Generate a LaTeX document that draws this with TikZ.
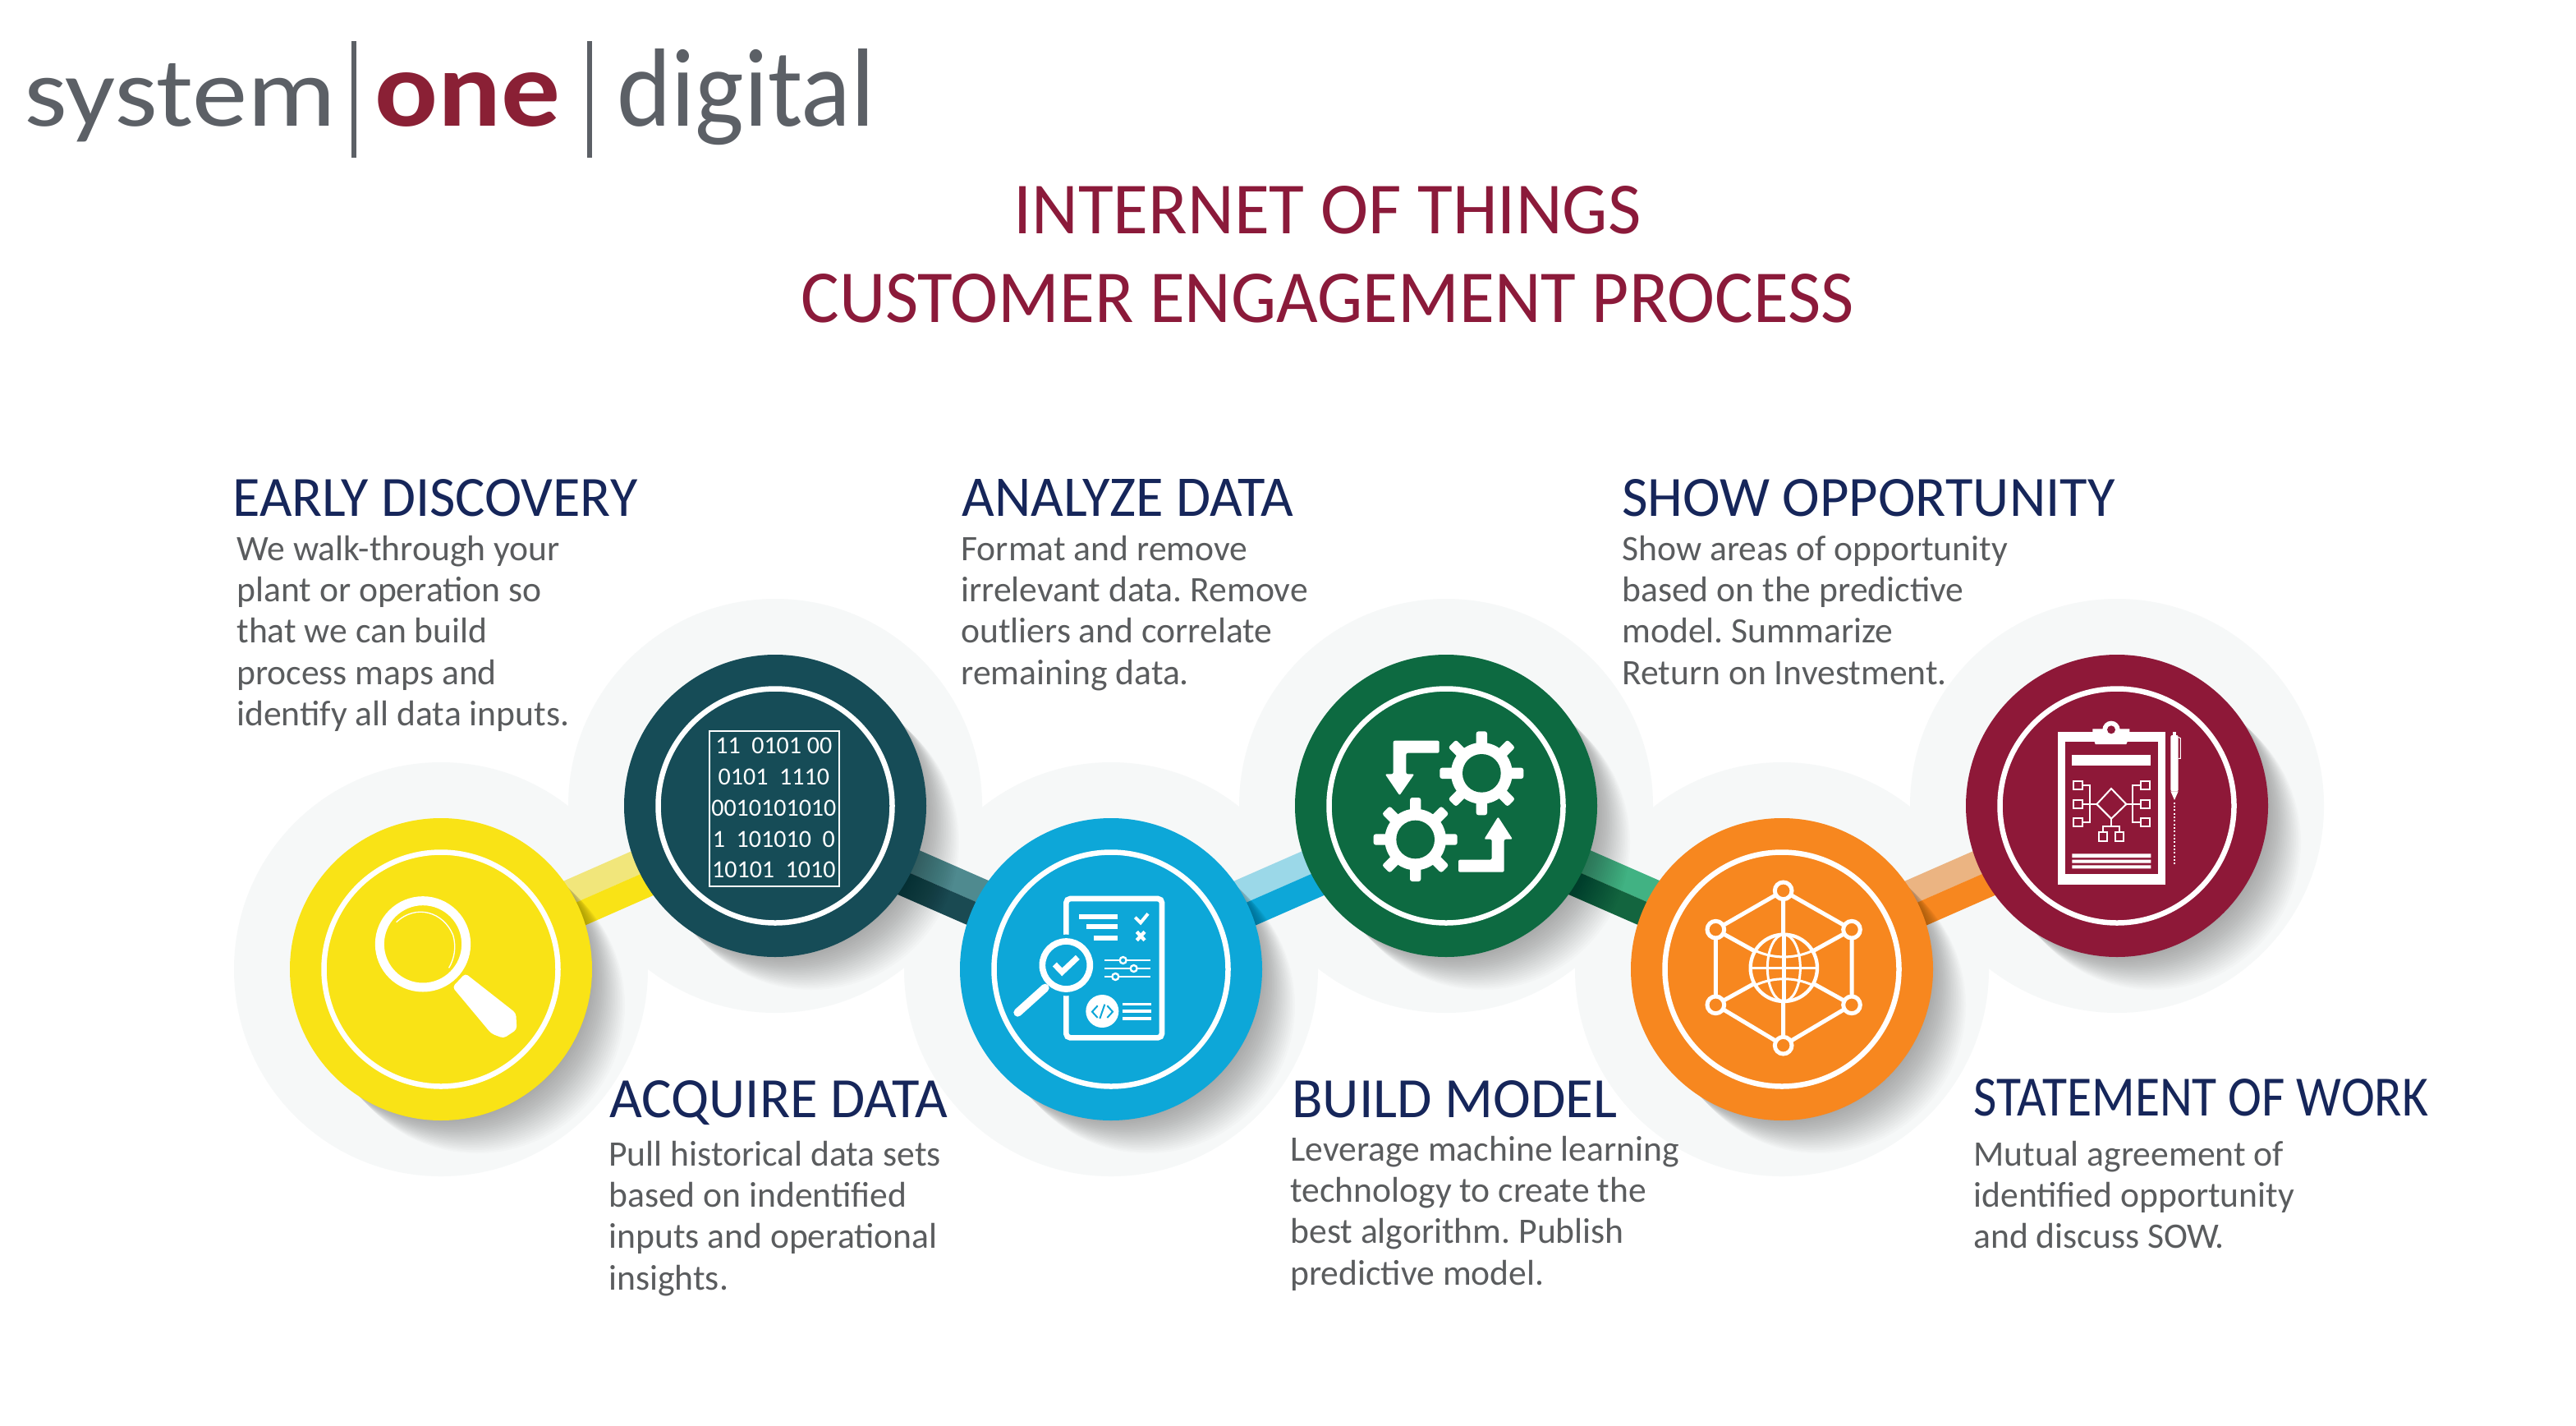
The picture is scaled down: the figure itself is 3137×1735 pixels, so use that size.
\documentclass[tikz,border=0pt]{standalone}
\usepackage{fontspec}
\usepackage{graphicx}
\setmainfont{Carlito}
\usetikzlibrary{calc}
\definecolor{cyel}{HTML}{F9E316}\definecolor{cyelL}{HTML}{F1E67B}
\definecolor{cteal}{HTML}{164C57}\definecolor{ctealL}{HTML}{4F8A8F}\definecolor{ctealD}{HTML}{1A4A52}
\definecolor{cblue}{HTML}{0DA7D8}\definecolor{cblueL}{HTML}{9BD8E8}
\definecolor{cgrn}{HTML}{0D6A41}\definecolor{cgrnL}{HTML}{41B283}\definecolor{cgrnD}{HTML}{13653F}
\definecolor{corg}{HTML}{F7871F}\definecolor{corgL}{HTML}{EBB482}
\definecolor{cmar}{HTML}{8E1838}
\definecolor{chalo}{HTML}{F6F8F8}
\definecolor{ctitle}{HTML}{8B1A3A}\definecolor{chead}{HTML}{16265A}\definecolor{cbody}{HTML}{5A5C5E}
\definecolor{clogo}{HTML}{5C6066}\definecolor{clogoR}{HTML}{8A2035}
\pgfdeclarelayer{halolayer}\pgfdeclarelayer{bandlayer}
\pgfsetlayers{halolayer,bandlayer,main}
\def\zp{0.16667pt}
\tikzset{
  halo/.style={circle,minimum size=252pt,inner sep=0pt,fill=chalo},
  stage/.style={circle,minimum size=184pt,inner sep=0pt,fill=#1},
  ring/.style={white,line width=3.25pt},
  band/.style={line width=15pt,draw=#1},
  headtxt/.style={anchor=base west,inner sep=0pt,text=chead,font=\fontsize{34pt}{34pt}\selectfont},
  titletxt/.style={anchor=base west,inner sep=0pt,text=ctitle,font=\fontsize{44pt}{44pt}\selectfont},
  bodytxt/.style={anchor=base west,inner sep=0pt,text=cbody,font=\fontsize{21.8pt}{25.2pt}\selectfont\frenchspacing},
  logotxt/.style={anchor=base west,inner sep=0pt,font=\fontsize{66pt}{66pt}\selectfont},
  bits/.style={anchor=base,inner sep=0pt,text=white,font=\fontsize{15pt}{15pt}\selectfont},
  wl/.style={draw=white,line width=#1*\zp},
}
\newcommand\castshadow[1]{\foreach \i in {1,...,22}{\fill[black,opacity=.017] ([shift={(\i*2,\i*2)}]#1) circle (180);}}
\newcommand\riseband[4]{%
  \draw[band=#3] ([shift={(-6,-22.7)}]#1.center) -- ([shift={(-6,-2.7)}]#2.center);
  \draw[band=#4] ([shift={(6,4.7)}]#1.center) -- ([shift={(6,24.7)}]#2.center);}
\newcommand\fallband[4]{%
  \draw[band=#3] ([shift={(6,-3.7)}]#1.center) -- ([shift={(6,-23.7)}]#2.center);
  \draw[band=#4] ([shift={(-6,23.7)}]#1.center) -- ([shift={(-6,3.7)}]#2.center);}
\newcommand\gearicon[3]{%
  \foreach \a in {0,45,...,315}{\fill[white,rounded corners=1.4pt,rotate around={\a:(#1,#2)}] (#1-20,#2-153) rectangle (#1+20,#2-90);}
  \fill[white] (#1,#2) circle (112);
  \fill[#3] (#1,#2) circle (70);}
\begin{document}
\begin{tikzpicture}[x=0.5pt,y=-0.5pt]
\useasboundingbox (0,0) rectangle (3137,1735);

% logo
\node[logotxt,text=clogo] (lgA) at (29,153) {\resizebox{190pt}{38pt}{system}};
\node[logotxt,text=clogoR,font=\fontsize{66pt}{66pt}\bfseries\selectfont] (lgB) at (456,153) {\resizebox{113pt}{32.5pt}{one}};
\node[logotxt,text=clogo] (lgC) at (751,153) {\resizebox{157pt}{47pt}{digital}};
\coordinate (barAt) at (431,50);\coordinate (barAb) at (431,192);
\coordinate (barBt) at (718,50);\coordinate (barBb) at (718,192);
\draw[clogo,line width=2.8pt] (barAt) -- (barAb);
\draw[clogo,line width=2.8pt] (barBt) -- (barBb);

% title
\node[titletxt] (ttA) at (1234,284) {\resizebox{382pt}{29pt}{INTERNET OF THINGS}};
\node[titletxt] (ttB) at (975,392) {\resizebox{641pt}{29.5pt}{CUSTOMER ENGAGEMENT PROCESS}};

% halos
\begin{pgfonlayer}{halolayer}
\fill[white] (0,0) rectangle (3137,1735);
\node[halo] (h1) at (537,1180) {};
\node[halo] (h2) at (944,981) {};
\node[halo] (h3) at (1353,1180) {};
\node[halo] (h4) at (1761,981) {};
\node[halo] (h5) at (2170,1180) {};
\node[halo] (h6) at (2578,981) {};
\end{pgfonlayer}

% stages
\coordinate (s1) at (537,1180);\castshadow{s1}
\node[stage=cyel] (c1) at (s1) {};\draw[ring] (c1.center) circle (142.5);
\coordinate (s2) at (944,981);\castshadow{s2}
\node[stage=cteal] (c2) at (s2) {};\draw[ring] (c2.center) circle (142.5);
\coordinate (s3) at (1353,1180);\castshadow{s3}
\node[stage=cblue] (c3) at (s3) {};\draw[ring] (c3.center) circle (142.5);
\coordinate (s4) at (1761,981);\castshadow{s4}
\node[stage=cgrn] (c4) at (s4) {};\draw[ring] (c4.center) circle (142.5);
\coordinate (s5) at (2170,1180);\castshadow{s5}
\node[stage=corg] (c5) at (s5) {};\draw[ring] (c5.center) circle (142.5);
\coordinate (s6) at (2578,981);\castshadow{s6}
\node[stage=cmar] (c6) at (s6) {};\draw[ring] (c6.center) circle (142.5);

% connectors
\begin{pgfonlayer}{bandlayer}
\riseband{c1}{c2}{cyelL}{cyel}
\fallband{c2}{c3}{ctealL}{ctealD}
\riseband{c3}{c4}{cblueL}{cblue}
\fallband{c4}{c5}{cgrnL}{cgrnD}
\riseband{c5}{c6}{corgL}{corg}
\end{pgfonlayer}

% icon 1: magnifier
\begin{scope}[shift={(320,960)},scale=1/3]
\draw[wl=33] (585,568) circle (158);
\draw[white,line width=4*\zp] (488,488) .. controls (560,420) and (660,450) .. (695,535) .. controls (708,580) and (700,620) .. (680,655);
\fill[white,rounded corners=2pt] (740,675) -- (925,820) -- (928,880) -- (880,912) -- (835,895) -- (693,725) -- cycle;
\end{scope}

% icon 2: data
\begin{scope}[shift={(740,780)},scale=1/3]
\draw[wl=6] (371,330) rectangle (846,898);
\node[bits] (bA) at (607,413) {11~~0101 00};
\node[bits] (bB) at (607,526) {0101~~1110};
\node[bits] (bC) at (607,641) {0010101010};
\node[bits] (bD) at (607,753) {1~~101010~~0};
\node[bits] (bE) at (607,866) {10101~~1010};
\end{scope}

% icon 3: report
\begin{scope}[shift={(1150,980)},scale=1/3]
\draw[wl=20,rounded corners=2.5pt] (445,342) rectangle (795,850);
\fill[cblue] (445,585) circle (112);
\draw[wl=23] (445,585) circle (87);
\draw[wl=21,line join=miter] (403,582) -- (430,610) -- (487,556);
\draw[wl=30,line cap=round] (368,668) -- (268,758);
\foreach \yy/\xx in {407/493,445/520,487/545}{\draw[wl=18] (\xx,\yy) -- (633,\yy);}
\draw[wl=12] (697,410) -- (717,430) -- (744,397);
\draw[wl=13] (703,463) -- (732,494) (732,463) -- (703,494);
\foreach \yy/\kk in {567/653,597/692,627/625}{
  \draw[wl=7] (585,\yy) -- (752,\yy);
  \draw[wl=7,fill=cblue] (\kk,\yy) circle (12);}
\fill[white] (577,753) circle (60);
\draw[cblue,line width=6*\zp] (560,733) -- (540,755) -- (560,777) (595,733) -- (615,755) -- (595,777) (586,728) -- (568,780);
\foreach \yy in {727,753,780}{\draw[wl=11] (652,\yy) -- (755,\yy);}
\end{scope}

% icon 4: gears
\begin{scope}[shift={(1560,780)},scale=1/3]
\gearicon{733}{484}{cgrn}
\gearicon{491}{726}{cgrn}
\fill[white,rounded corners=1pt] (578,365) -- (578,410) -- (457,410) -- (457,487) -- (487,487) -- (433,565) -- (380,487) -- (410,487) -- (410,365) -- cycle;
\fill[white,rounded corners=1pt] (648,845) -- (648,800) -- (770,800) -- (770,725) -- (742,725) -- (793,643) -- (846,725) -- (815,725) -- (815,845) -- cycle;
\end{scope}

% icon 5: network globe
\begin{scope}[shift={(1970,980)},scale=1/3]
\draw[wl=15] (605,313) -- (855,455) -- (855,730) -- (605,878) -- (358,730) -- (358,455) -- cycle;
\draw[wl=15] (605,313) -- (605,878) (358,455) -- (855,730) (855,455) -- (358,730);
\fill[corg] (607,595) circle (122);
\draw[wl=13] (607,595) circle (122);
\draw[wl=9] (607,595) ellipse (60 and 122);
\draw[wl=13] (607,473) -- (607,717);
\draw[wl=9] (487,595) -- (727,595);
\draw[wl=9] (505,533) .. controls (570,562) and (645,562) .. (710,533);
\draw[wl=9] (505,657) .. controls (570,628) and (645,628) .. (710,657);
\foreach \p in {(605,313),(855,455),(855,730),(605,878),(358,730),(358,455)}{\draw[wl=15,fill=corg] \p circle (31);}
\end{scope}

% icon 6: clipboard
\begin{scope}[shift={(2380,780)},scale=1/3]
\fill[white] (378,333) rectangle (770,890);
\fill[cmar] (405,370) rectangle (743,852);
\fill[white] (505,322) -- (640,322) -- (640,350) -- (628,378) -- (515,378) -- (505,350) -- cycle;
\fill[white] (573,325) circle (32);
\fill[cmar] (573,325) circle (15);
\fill[white] (430,417) rectangle (718,455);
\foreach \xx/\yy in {452/528,452/597,452/663,697/528,697/597,697/663,543/716,603/716}{
  \draw[wl=6] (\xx-16,\yy-16) rectangle (\xx+16,\yy+16);}
\draw[wl=6] (573,540) -- (628,597) -- (573,650) -- (520,597) -- cycle;
\draw[wl=6] (468,528) -- (495,528) -- (495,663) -- (468,663) (468,597) -- (520,597);
\draw[wl=6] (681,528) -- (652,528) -- (652,663) -- (681,663) (628,597) -- (681,597);
\draw[wl=6] (573,650) -- (573,678) (543,700) -- (543,678) -- (603,678) -- (603,700);
\fill[white] (430,778) rectangle (718,792) (430,800) rectangle (718,812) (430,820) rectangle (718,832);
\fill[white,rounded corners=1pt] (790,345) rectangle (818,550);
\fill[white] (790,550) -- (818,550) -- (804,582) -- cycle;
\fill[white] (797,333) rectangle (811,346);
\draw[white,line width=3*\zp] (818,352) -- (826,356) -- (826,430) -- (818,430);
\draw[white,line width=6*\zp,dash pattern=on 6*\zp off 7*\zp] (804,590) -- (804,822);
\end{scope}

% headings
\node[headtxt] (hA) at (283,628) {\resizebox{246.5pt}{22.5pt}{EARLY DISCOVERY}};
\node[headtxt] (hB) at (1171,628) {\resizebox{202pt}{22.5pt}{ANALYZE DATA}};
\node[headtxt] (hC) at (1975,628) {\resizebox{300pt}{22.5pt}{SHOW OPPORTUNITY}};
\node[headtxt] (hD) at (742,1360) {\resizebox{206pt}{22.5pt}{ACQUIRE DATA}};
\node[headtxt] (hE) at (1573,1360) {\resizebox{198pt}{22.5pt}{BUILD MODEL}};
\node[headtxt] (hF) at (2403,1358) {\resizebox{277pt}{22.5pt}{STATEMENT OF WORK}};

% body texts
\node[bodytxt] (tA) at (288,682) {\parbox[t]{400pt}{\raggedright We walk-through your\\plant or operation so\\that we can build\\process maps and\\identify all data inputs.}};
\node[bodytxt] (tB) at (1170,682) {\parbox[t]{400pt}{\raggedright Format and remove\\irrelevant data. Remove\\outliers and correlate\\remaining data.}};
\node[bodytxt] (tC) at (1975,682) {\parbox[t]{400pt}{\raggedright Show areas of opportunity\\based on the predictive\\model. Summarize\\Return on Investment.}};
\node[bodytxt] (tD) at (741,1419) {\parbox[t]{400pt}{\raggedright Pull historical data sets\\based on indentified\\inputs and operational\\insights.}};
\node[bodytxt] (tE) at (1571,1413) {\parbox[t]{400pt}{\raggedright Leverage machine learning\\technology to create the\\best algorithm. Publish\\predictive model.}};
\node[bodytxt] (tF) at (2403,1419) {\parbox[t]{400pt}{\raggedright Mutual agreement of\\identified opportunity\\and discuss SOW.}};
\end{tikzpicture}
\end{document}
